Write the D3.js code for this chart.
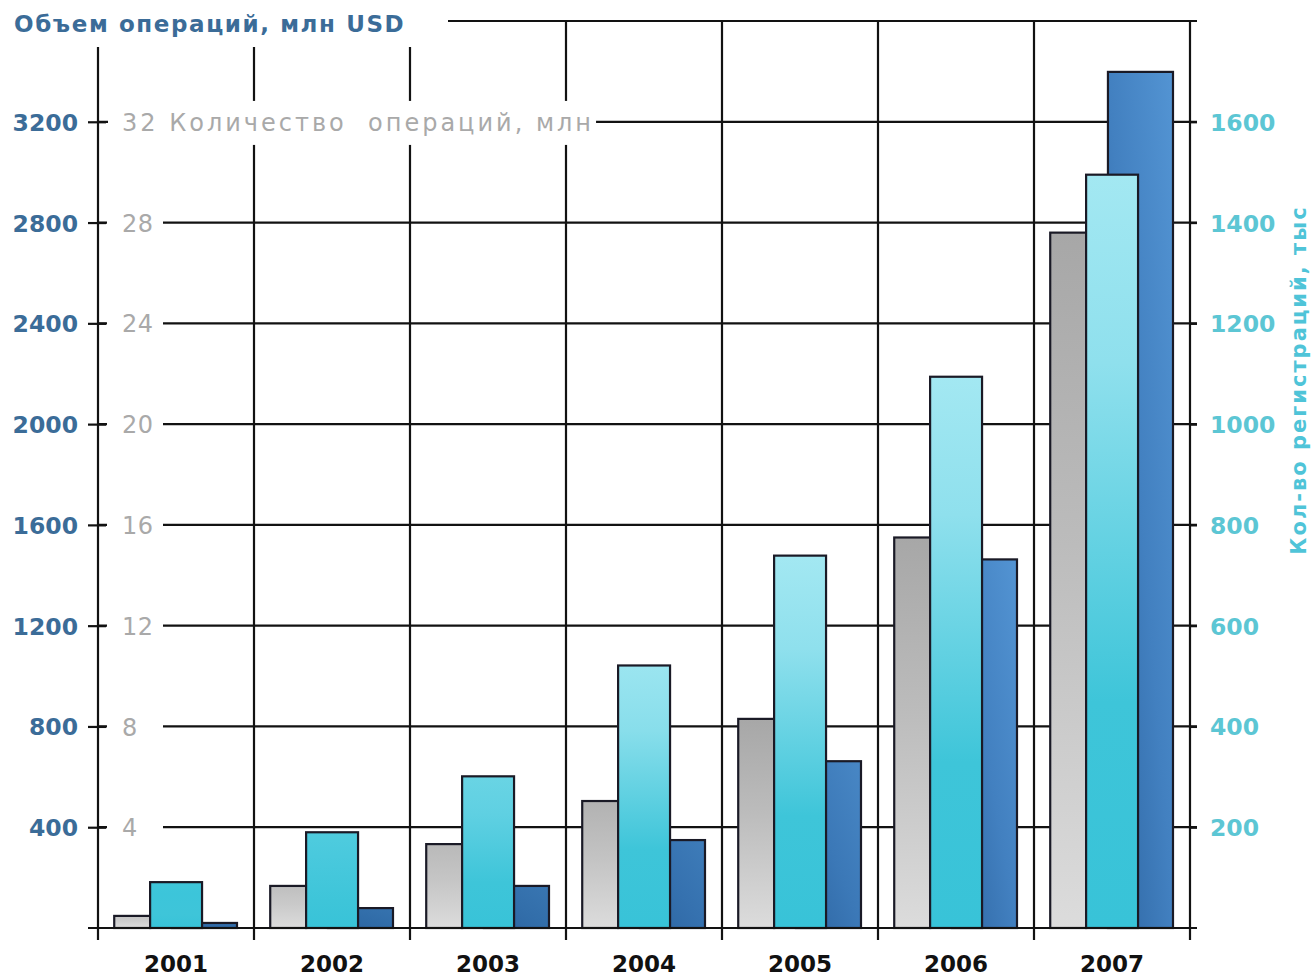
<!DOCTYPE html>
<html><head><meta charset="utf-8">
<script src="https://cdn.jsdelivr.net/npm/d3@7"></script>
<style>
html,body{margin:0;padding:0;background:#fff;}
svg{display:block;font-family:"DejaVu Sans",Verdana,sans-serif;}
</style></head>
<body>
<svg id="c" width="1314" height="978"></svg>
<script>
// ---- data ----
const years = ["2001","2002","2003","2004","2005","2006","2007"];
const countMln = [0.48, 1.67, 3.33, 5.04, 8.3, 15.5, 27.6];          // gray, left inner axis
const regThous = [91, 190, 301, 521, 739, 1094, 1495];               // cyan, right axis
const volumeMlnUSD = [20, 79, 167, 349, 662, 1463, 3398];            // blue, left outer axis
const volTicks = [400, 800, 1200, 1600, 2000, 2400, 2800, 3200];
const cntTicks = [4, 8, 12, 16, 20, 24, 28, 32];
const regTicks = [200, 400, 600, 800, 1000, 1200, 1400, 1600];
const volTitle = "Объем операций, млн USD";
const cntTitle = "Количество  операций, млн";
const regTitle = "Кол-во регистраций, тыс";

// ---- layout ----
const L = 98, R = 1190, B = 928, T = 21;
const svg = d3.select("#c");
const x = d3.scaleBand().domain(years).range([L, R]).padding(0);
const yVol = d3.scaleLinear().domain([0, 3600]).range([B, T]);
const yCnt = d3.scaleLinear().domain([0, 36]).range([B, T]);
const yReg = d3.scaleLinear().domain([0, 1800]).range([B, T]);
const fmt = d3.format("d");

const defs = svg.append("defs");
let gid = 0;
function grad(stops, x1, y1, x2, y2) {
  const id = "g" + (gid++);
  const g = defs.append("linearGradient").attr("id", id)
    .attr("x1", x1).attr("y1", y1).attr("x2", x2).attr("y2", y2);
  stops.forEach(s => g.append("stop").attr("offset", s[0]).attr("stop-color", s[1]));
  return `url(#${id})`;
}
const clamp = v => Math.max(0, Math.min(1, v));
function grayFill(h) {
  const t = clamp(h / 200);
  return grad([[0, d3.interpolateRgb("#c6c6c6", "#a7a7a7")(t)],
               [0.45, d3.interpolateRgb("#cecece", "#bcbcbc")(t)],
               [1, "#dcdcdc"]], 0, 0, 0, 1);
}
function cyanFill(h) {
  const t = clamp((h - 60) / 220);
  return grad([[0, d3.interpolateRgb("#3fc6da", "#a3e8f2")(t)],
               [0.25, d3.interpolateRgb("#3cc5da", "#8fe0ed")(t)],
               [0.7, "#3ec5d9"], [1, "#38c3d8"]], 0, 0, 0, 1);
}
function blueFill(h) {
  const t = clamp(h / 260);
  return grad([[0, d3.interpolateRgb("#3470ac", "#5394d3")(t)],
               [0.5, d3.interpolateRgb("#2f6aa6", "#4280c0")(t)],
               [1, "#2c64a0"]], 1, 0, 0, 1);
}

const ink = "#121212";
const grid = svg.append("g").attr("stroke", ink).attr("stroke-width", 2.2);

// horizontal gridlines
grid.selectAll("line.h").data(volTicks).join("line")
  .attr("x1", L).attr("x2", R + 7)
  .attr("y1", d => yVol(d)).attr("y2", d => yVol(d));
// top border line
grid.append("line").attr("x1", L).attr("x2", R + 7).attr("y1", yVol(3600)).attr("y2", yVol(3600));
// vertical gridlines at band boundaries
const bounds = years.map(d => x(d)).concat([x.range()[1]]);
grid.selectAll("line.v").data(bounds).join("line")
  .attr("x1", d => d).attr("x2", d => d)
  .attr("y1", yVol(3600)).attr("y2", B + 12);

// white masks: gray tick label column and title zone
const maskG = svg.append("g").attr("fill", "#fff");
maskG.selectAll("rect").data(cntTicks.filter(d => d !== 32)).join("rect")
  .attr("x", L + 9).attr("width", 56)
  .attr("y", d => yCnt(d) - 14).attr("height", 28);
maskG.append("rect").attr("x", 0).attr("y", 0).attr("width", 448).attr("height", 47);

// bars
const bw = x.bandwidth();
const bars = svg.append("g").attr("stroke", "#1a1a26").attr("stroke-width", 2.2);
bars.selectAll("rect.gray").data(years).join("rect")
  .attr("x", d => x(d) + bw * 0.104).attr("width", bw * 0.23)
  .attr("y", (d, i) => yCnt(countMln[i])).attr("height", (d, i) => B - yCnt(countMln[i]))
  .attr("fill", (d, i) => grayFill(B - yCnt(countMln[i])));
bars.selectAll("rect.blue").data(years).join("rect")
  .attr("x", d => x(d) + bw * 0.474).attr("width", bw * 0.417)
  .attr("y", (d, i) => yVol(volumeMlnUSD[i])).attr("height", (d, i) => B - yVol(volumeMlnUSD[i]))
  .attr("fill", (d, i) => blueFill(B - yVol(volumeMlnUSD[i])));
bars.selectAll("rect.cyan").data(years).join("rect")
  .attr("x", d => x(d) + bw * 0.334).attr("width", bw * 0.333)
  .attr("y", (d, i) => yReg(regThous[i])).attr("height", (d, i) => B - yReg(regThous[i]))
  .attr("fill", (d, i) => cyanFill(B - yReg(regThous[i])));

// baseline
svg.append("line").attr("stroke", ink).attr("stroke-width", 2.2)
  .attr("x1", L - 10).attr("x2", R + 7).attr("y1", B).attr("y2", B);

// left outer axis (volume)
const axVol = svg.append("g").attr("transform", `translate(${L + 8},0)`)
  .call(d3.axisLeft(yVol).tickValues(volTicks).tickFormat(fmt).tickSize(18).tickPadding(10));
axVol.select(".domain").remove();
axVol.selectAll(".tick line").attr("stroke", ink).attr("stroke-width", 2.2);
axVol.selectAll(".tick text").attr("fill", "#3b6c98").attr("font-size", 23.5)
  .attr("font-weight", "bold").attr("font-family", "DejaVu Sans").attr("dy", "0.36em");

// left inner axis (count) with inline title
const axCnt = svg.append("g").attr("transform", `translate(${L + 10},0)`)
  .call(d3.axisRight(yCnt).tickValues(cntTicks).tickSize(0).tickPadding(14)
    .tickFormat(d => d === 32 ? d + " " + cntTitle : fmt(d)));
axCnt.select(".domain").remove();
axCnt.selectAll(".tick text").attr("fill", "#a9a9a9").attr("font-size", 24)
  .attr("font-family", "DejaVu Sans").attr("letter-spacing", 3)
  .attr("dy", "0.36em").style("white-space", "pre");
axCnt.selectAll(".tick text").filter(d => d !== 32).attr("letter-spacing", 0.5);
// white background behind the inline title (breaks the gridlines)
axCnt.selectAll(".tick").filter(d => d === 32).each(function () {
  const t = d3.select(this).select("text");
  const bb = t.node().getBBox();
  d3.select(this).insert("rect", "text").attr("fill", "#fff")
    .attr("x", bb.x - 14).attr("y", bb.y - 8).attr("width", bb.width + 16).attr("height", bb.height + 16);
});

// right axis (registrations)
const axReg = svg.append("g").attr("transform", `translate(${R},0)`)
  .call(d3.axisRight(yReg).tickValues(regTicks).tickFormat(fmt).tickSize(7).tickPadding(13));
axReg.select(".domain").remove();
axReg.selectAll(".tick line").attr("stroke", ink).attr("stroke-width", 2.2);
axReg.selectAll(".tick text").attr("fill", "#5cc6d4").attr("font-size", 23.5)
  .attr("font-weight", "bold").attr("font-family", "DejaVu Sans").attr("dy", "0.36em");

// x axis (years)
const axX = svg.append("g").attr("transform", `translate(0,${B})`)
  .call(d3.axisBottom(x).tickSize(0).tickPadding(28));
axX.select(".domain").remove();
axX.selectAll(".tick text").attr("fill", "#111").attr("font-size", 23)
  .attr("font-weight", "bold").attr("font-family", "DejaVu Sans").attr("dy", "0.71em");

// titles
svg.append("text").attr("x", 14).attr("y", 32).attr("fill", "#3b6c98")
  .attr("font-size", 23).attr("font-weight", "bold").attr("letter-spacing", 1.6).text(volTitle);
svg.append("text").attr("transform", "translate(1306,380) rotate(-90)").attr("text-anchor", "middle")
  .attr("fill", "#4fc4d8").attr("font-size", 21).attr("font-weight", "bold")
  .attr("letter-spacing", 2).text(regTitle);
</script>
</body></html>
